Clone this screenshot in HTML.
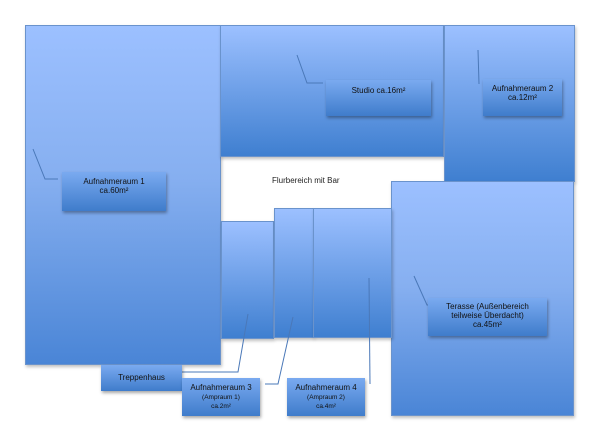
<!DOCTYPE html>
<html><head><meta charset="utf-8"><style>
body{margin:0;width:612px;height:432px;background:#fff;position:relative;overflow:hidden;font-family:"Liberation Sans",sans-serif}
.r{position:absolute;box-sizing:border-box;border:1px solid #6a93cc;background:linear-gradient(#9cc0ff,#3f7fd0);box-shadow:1px 2px 3px rgba(0,0,0,.25)}
.big{background:linear-gradient(#9cc0ff 0%,#86aff0 45%,#4a85d6 100%)}
.l{position:absolute;box-sizing:border-box;background:linear-gradient(#7aaaf0,#3f7ccb);box-shadow:1px 2px 3px rgba(0,0,0,.35);font-size:8px;color:#111;text-align:center;line-height:9px;padding-top:5px}
.s{font-size:6.5px;line-height:7px}
svg{position:absolute;left:0;top:0}
</style></head><body>
<div class="r big" style="left:25px;top:25px;width:196px;height:340px"></div>
<div class="r" style="left:220px;top:25px;width:224px;height:132px"></div>
<div class="r" style="left:444px;top:25px;width:131px;height:157px"></div>
<div class="r big" style="left:391px;top:181px;width:183px;height:235px"></div>
<div class="r" style="left:221px;top:221px;width:53px;height:118px"></div>
<div class="r" style="left:274px;top:208px;width:40px;height:130px"></div>
<div class="r" style="left:313px;top:208px;width:79px;height:130px"></div>
<div style="position:absolute;left:272px;top:176px;font-size:8px;color:#222">Flurbereich mit Bar</div>
<svg width="612" height="432" fill="none" stroke="#4a78b8" stroke-width="1">
<polyline points="33,149 45,179 58,179"/>
<polyline points="297,55 307,83 323,83"/>
<polyline points="478,50 479,84"/>
<polyline points="414,276 427,305 440,305"/>
<polyline points="173,372 238,372 248,314"/>
<polyline points="265,384 278,384 293,317"/>
<polyline points="370,384 369,278"/>
</svg>
<div class="l" style="left:62px;top:172px;width:104px;height:39px">Aufnahmeraum 1<br>ca.60m²</div>
<div class="l" style="left:326px;top:80px;width:105px;height:36px;padding-top:6px">Studio ca.16m²</div>
<div class="l" style="left:483px;top:79px;width:79px;height:37px">Aufnahmeraum 2<br>ca.12m²</div>
<div class="l" style="left:428px;top:298px;width:119px;height:38px;padding-top:4px">Terasse (Außenbereich<br>teilweise Überdacht)<br>ca.45m²</div>
<div class="l" style="left:101px;top:365px;width:81px;height:26px;padding-top:8px">Treppenhaus</div>
<div class="l" style="left:182px;top:378px;width:78px;height:38px;padding-top:5px">Aufnahmeraum 3<br><span class="s">(Ampraum 1)<br>ca.2m²</span></div>
<div class="l" style="left:287px;top:378px;width:78px;height:38px;padding-top:5px">Aufnahmeraum 4<br><span class="s">(Ampraum 2)<br>ca.4m²</span></div>
</body></html>
